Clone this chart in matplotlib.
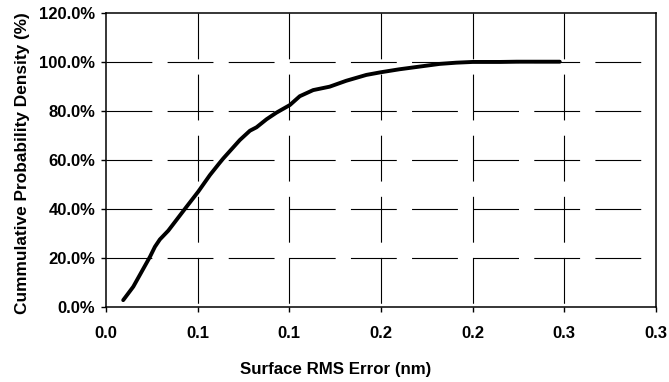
import matplotlib
matplotlib.use('Agg')
import matplotlib.pyplot as plt
import matplotlib.ticker as mtick

# ______________________ datos ______________________

rms_error = [0.0094, 0.0149, 0.0240, 0.0267, 0.0294, 0.0340, 0.0440, 0.0503,
             0.0567, 0.0618, 0.0640, 0.0730, 0.0785, 0.0821, 0.0876, 0.0930,
             0.1003, 0.1057, 0.1130, 0.1220, 0.1310, 0.1420, 0.1500, 0.1600,
             0.1710, 0.1820, 0.1910, 0.2000, 0.2150, 0.2240, 0.2475]
prob_acum = [2.7, 8.2, 20.4, 24.5, 27.5, 31.1, 40.9, 47.0,
             53.8, 58.6, 60.6, 68.1, 71.9, 73.3, 76.6, 79.3,
             82.4, 86.0, 88.5, 89.9, 92.3, 94.7, 95.8, 97.0,
             98.1, 99.2, 99.7, 100.0, 100.0, 100.1, 100.1]

x_ticks = [0.0, 0.05, 0.10, 0.15, 0.20, 0.25, 0.30]
x_labels = ['0.0', '0.1', '0.1', '0.2', '0.2', '0.3', '0.3']
y_ticks = [0, 20, 40, 60, 80, 100, 120]

plt.rcParams['font.family'] = ['Liberation Sans', 'DejaVu Sans']
plt.rcParams['font.weight'] = 'bold'
plt.rcParams['lines.scale_dashes'] = False

fig = plt.figure(figsize=(6.69, 3.82), dpi=100)
ax = fig.add_axes([0.1584, 0.197, 0.8222, 0.769])

# rejilla discontinua (las verticales empiezan arriba, como en el original)
dash = (0, (33, 11))
for xv in x_ticks[1:-1]:
    ax.plot([xv, xv], [1, 0], transform=ax.get_xaxis_transform(),
            color='black', linewidth=0.8, linestyle=dash, zorder=1)
for yv in y_ticks[1:-1]:
    ax.plot([0, 1], [yv, yv], transform=ax.get_yaxis_transform(),
            color='black', linewidth=0.8, linestyle=dash, zorder=1)

ax.plot(rms_error, prob_acum, color='black', linewidth=2.8,
        solid_capstyle='round', zorder=3)

ax.set_xlim(0, 0.30)
ax.set_ylim(0, 120)
ax.set_xticks(x_ticks)
ax.xaxis.set_major_formatter(mtick.FixedFormatter(x_labels))
ax.set_yticks(y_ticks)
ax.yaxis.set_major_formatter(mtick.PercentFormatter(decimals=1))

ax.tick_params(axis='both', direction='out', length=3.6, width=1,
               labelsize=12, color='black')
ax.tick_params(axis='x', pad=10)
ax.tick_params(axis='y', pad=4)

for s in ax.spines.values():
    s.set_linewidth(1.1)
    s.set_color('black')

# las etiquetas del original van centradas en la figura, no en el eje
ax.set_xlabel('Surface RMS Error (nm)', fontsize=12.2, fontweight='bold')
ax.xaxis.set_label_coords(0.417, -0.188)
ax.set_ylabel('Cummulative Probability Density (%)', fontsize=12.4,
              fontweight='bold')
ax.yaxis.set_label_coords(-0.138, 0.489)

fig.savefig('out.png', dpi=100)
